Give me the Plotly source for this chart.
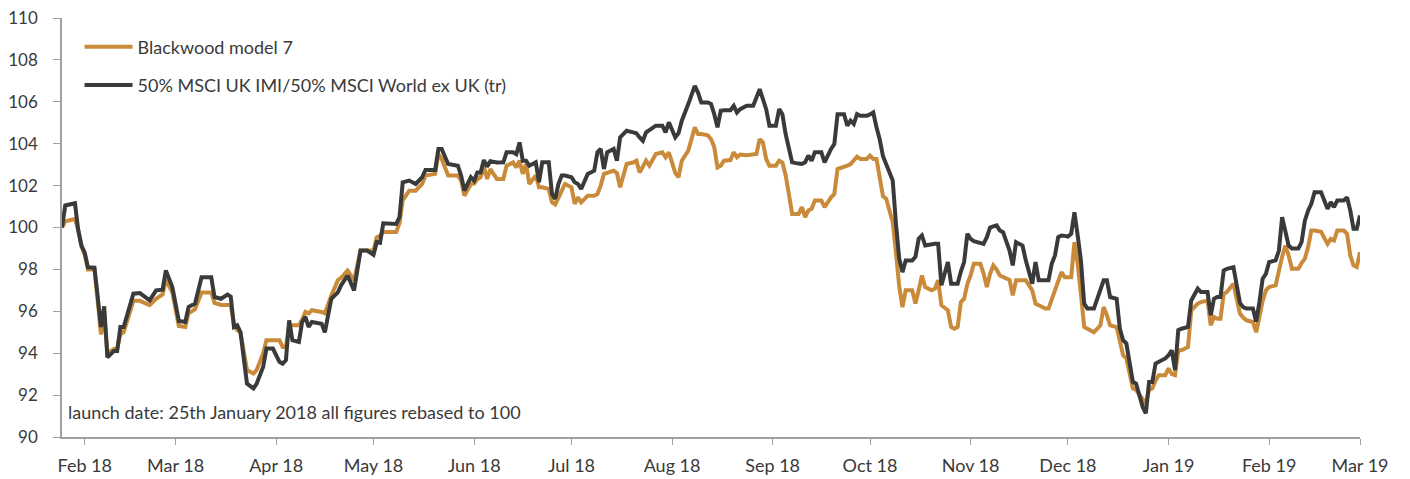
import pandas as pd
import plotly.graph_objects as go

launch_date = "2018-01-25"
series_names = ["Blackwood model 7", "50% MSCI UK IMI/50% MSCI World ex UK (tr)"]
note_text = "launch date: 25th January 2018 all figures rebased to 100"

# days since launch date
day_offsets = [
    0, 1, 4, 5, 6, 7, 8, 10, 11, 12,
    13, 14, 16, 17, 18, 19, 22, 24, 27, 29,
    31, 32, 34, 36, 38, 39, 41, 43, 46, 47,
    49, 51, 52, 53, 54, 55, 57, 59, 60, 62,
    63, 65, 67, 68, 69, 70, 71, 73, 74, 75,
    76, 77, 80, 81, 83, 85, 86, 88, 90, 92,
    94, 96, 97, 98, 99, 103, 104, 105, 107, 109,
    111, 112, 115, 116, 117, 119, 122, 123, 124, 126,
    127, 128, 129, 130, 131, 132, 134, 136, 137, 139,
    140, 141, 142, 143, 144, 146, 147, 148, 150, 151,
    152, 153, 154, 155, 157, 158, 159, 160, 162, 164,
    165, 166, 167, 168, 170, 171, 172, 174, 176, 177,
    178, 179, 180, 181, 183, 185, 186, 187, 189, 190,
    191, 193, 194, 195, 196, 197, 199, 200, 201, 202,
    203, 204, 206, 207, 208, 209, 211, 213, 214, 215,
    216, 217, 218, 220, 221, 222, 223, 224, 225, 227,
    228, 229, 230, 231, 232, 234, 235, 237, 238, 239,
    241, 242, 243, 244, 245, 246, 248, 249, 250, 251,
    252, 253, 254, 256, 257, 258, 259, 260, 262, 263,
    264, 265, 266, 268, 269, 270, 271, 273, 274, 275,
    276, 277, 278, 279, 280, 281, 283, 284, 285, 286,
    287, 288, 289, 290, 292, 293, 294, 296, 297, 299,
    300, 301, 303, 304, 305, 306, 307, 308, 309, 310,
    311, 312, 313, 314, 315, 316, 318, 320, 321, 322,
    323, 325, 326, 327, 328, 330, 331, 333, 334, 335,
    336, 337, 338, 340, 341, 342, 343, 344, 345, 347,
    348, 350, 351, 353, 354, 355, 356, 357, 358, 359,
    361, 362, 363, 364, 365, 367, 368, 369, 370, 371,
    372, 374, 375, 376, 377, 378, 379, 381, 382, 383,
    384, 385, 386, 388, 389, 390, 391, 392, 393, 395,
    396, 397, 398, 399, 400,
]

blackwood = [
    100.0, 100.3, 100.4, 99.9, 99.1, 98.7, 98.0, 98.0, 96.5, 94.9,
    95.8, 94.0, 94.2, 94.2, 94.9, 95.0, 96.5, 96.5, 96.3, 96.6,
    96.8, 97.5, 96.9, 95.3, 95.25, 95.9, 96.1, 96.9, 96.9, 96.4,
    96.3, 96.3, 96.3, 95.4, 95.1, 95.0, 93.2, 93.03, 93.2, 94.0,
    94.62, 94.62, 94.62, 94.3, 94.3, 95.33, 95.33, 95.33, 95.6, 95.97,
    95.9, 96.05, 95.97, 95.9, 96.76, 97.48, 97.6, 97.95, 97.48, 98.9,
    98.9, 98.9, 99.54, 99.6, 99.78, 99.78, 100.2, 101.3, 101.76, 101.76,
    102.08, 102.48, 102.56, 103.51, 103.27, 102.48, 102.48, 102.24, 101.52, 102.08,
    102.1, 102.3, 102.4, 102.9, 102.32, 102.79, 102.32, 102.32, 102.95, 103.11,
    102.87, 103.19, 102.56, 103.03, 102.08, 102.48, 101.92, 101.92, 101.84, 101.2,
    101.1, 101.4, 101.76, 102.08, 101.92, 101.13, 101.44, 101.2, 101.52, 101.52,
    101.6, 102.0, 102.56, 102.6, 102.71, 102.6, 101.92, 103.03, 103.1, 103.19,
    102.63, 102.9, 103.19, 102.95, 103.51, 103.59, 103.35, 103.59, 102.6, 102.4,
    103.19, 103.67, 104.2, 104.78, 104.46, 104.46, 104.4, 104.22, 103.83, 102.87,
    102.95, 103.19, 103.22, 103.59, 103.35, 103.48, 103.45, 103.51, 103.51, 104.22,
    104.06, 103.27, 102.95, 102.95, 103.19, 103.1, 102.5, 101.6, 100.65, 100.65,
    100.97, 100.49, 100.81, 100.89, 101.29, 101.29, 100.97, 101.44, 101.6, 102.79,
    102.87, 102.95, 103.03, 103.19, 103.38, 103.27, 103.27, 103.43, 103.27, 103.27,
    102.24, 101.5, 101.37, 100.25, 98.8, 97.2, 96.2, 97.0, 97.0, 96.37,
    97.0, 97.71, 97.16, 97.0, 97.08, 97.48, 96.29, 96.05, 95.25, 95.17,
    95.25, 96.44, 96.6, 97.3, 97.71, 98.27, 98.27, 97.8, 97.16, 97.79,
    98.19, 98.0, 97.71, 97.63, 97.5, 96.76, 97.48, 97.48, 97.48, 97.0,
    96.37, 96.29, 96.13, 96.13, 96.6, 97.08, 97.48, 97.87, 97.63, 97.63,
    97.63, 99.3, 98.27, 96.84, 95.25, 95.17, 95.0, 95.33, 96.2, 95.81,
    95.33, 95.25, 94.54, 93.9, 93.75, 92.32, 92.24, 91.76, 91.6, 92.24,
    92.32, 92.7, 92.95, 92.95, 93.27, 93.0, 92.95, 94.14, 94.14, 94.3,
    96.05, 96.37, 96.44, 96.52, 95.33, 95.73, 95.65, 95.65, 96.84, 96.92,
    97.32, 96.6, 95.89, 95.7, 95.57, 95.49, 95.0, 95.73, 96.5, 97.0,
    97.16, 97.24, 97.95, 98.6, 99.14, 98.67, 98.03, 98.03, 98.3, 98.51,
    99.06, 99.86, 99.86, 99.8, 99.5, 99.22, 99.46, 99.38, 99.86, 99.86,
    99.7, 98.67, 98.19, 98.11, 98.82,
]

benchmark = [
    100.0, 101.05, 101.16, 99.86, 99.14, 98.8, 98.1, 98.08, 96.7, 95.25,
    96.24, 93.8, 94.1, 94.1, 95.25, 95.25, 96.84, 96.87, 96.52, 97.0,
    97.03, 97.95, 97.16, 95.54, 95.49, 96.2, 96.37, 97.63, 97.63, 96.68,
    96.6, 96.8, 96.7, 95.25, 95.33, 95.0, 92.55, 92.32, 92.55, 93.35,
    94.22, 94.22, 93.59, 93.5, 93.67, 95.57, 94.62, 94.54, 95.49, 95.73,
    95.25, 95.49, 95.41, 95.0, 96.6, 96.9, 97.24, 97.71, 97.0, 98.9,
    98.9, 98.7, 99.3, 99.27, 100.2, 100.17, 100.49, 102.16, 102.24, 102.08,
    102.4, 102.75, 102.75, 103.75, 103.75, 103.03, 102.95, 102.48, 101.76, 102.4,
    102.24, 102.63, 102.63, 103.22, 102.9, 103.16, 103.1, 103.11, 103.59, 103.59,
    103.5, 104.06, 103.19, 103.19, 102.95, 103.11, 102.16, 103.11, 103.11, 101.6,
    101.37, 102.08, 102.48, 102.48, 102.4, 102.16, 102.08, 101.84, 102.56, 102.71,
    103.59, 103.75, 102.79, 103.59, 103.75, 103.19, 104.3, 104.62, 104.54, 104.5,
    104.3, 104.14, 104.54, 104.65, 104.86, 104.86, 104.54, 105.02, 104.3, 104.5,
    105.1, 105.89, 106.29, 106.76, 106.44, 105.97, 105.97, 105.9, 105.41, 104.78,
    105.57, 105.6, 105.6, 105.81, 105.49, 105.65, 105.81, 105.81, 106.2, 106.6,
    106.13, 105.65, 104.86, 104.86, 105.65, 105.41, 104.46, 103.83, 103.11, 103.05,
    103.03, 103.11, 103.43, 103.19, 103.59, 103.59, 103.11, 103.75, 103.98, 105.41,
    105.41, 104.86, 105.1, 104.94, 105.41, 105.33, 105.33, 105.4, 105.49, 104.78,
    104.2, 103.4, 103.0, 102.24, 100.17, 98.51, 97.87, 98.43, 98.43, 98.6,
    99.46, 99.62, 99.14, 99.22, 99.22, 99.22, 97.24, 98.35, 97.32, 97.32,
    97.32, 97.9, 98.35, 99.7, 99.46, 99.35, 99.25, 99.22, 99.54, 100.0,
    100.05, 100.1, 99.86, 99.78, 98.9, 98.19, 99.3, 99.14, 98.43, 97.32,
    98.35, 97.48, 97.48, 97.48, 98.27, 98.67, 99.54, 99.62, 99.6, 99.57,
    99.7, 100.73, 99.62, 98.43, 96.37, 96.13, 96.13, 97.0, 97.48, 97.48,
    96.68, 96.6, 95.17, 94.62, 94.46, 92.63, 92.55, 91.44, 91.13, 92.63,
    92.63, 93.51, 93.59, 93.75, 93.9, 94.14, 93.19, 95.1, 95.17, 95.25,
    96.52, 97.08, 96.92, 96.92, 95.81, 96.6, 96.68, 96.68, 97.95, 98.03,
    98.11, 97.16, 96.4, 96.2, 96.13, 96.13, 95.5, 96.44, 97.56, 97.79,
    98.35, 98.43, 98.9, 100.49, 99.86, 99.14, 99.0, 99.0, 99.3, 100.33,
    100.8, 101.13, 101.68, 101.68, 101.29, 100.89, 101.21, 100.97, 101.29, 101.29,
    101.44, 100.81, 99.94, 99.94, 100.57,
]

assert len(day_offsets) == len(blackwood) == len(benchmark)

dates = pd.Timestamp(launch_date) + pd.to_timedelta(day_offsets, unit="D")
tick_dates = pd.date_range("2018-02-01", "2019-03-01", freq="MS")
tick_labels = [d.strftime("%b %y") for d in tick_dates]

FONT = "Lato, 'Open Sans', sans-serif"
TEXT = "#3a3a3a"
AXIS = "#a0a0a0"

fig = go.Figure()
fig.add_trace(go.Scatter(
    x=dates, y=blackwood, name=series_names[0], mode="lines",
    line=dict(color="#C98B3A", width=4), legendgroup="a",
))
fig.add_trace(go.Scatter(
    x=dates, y=benchmark, name=series_names[1], mode="lines",
    line=dict(color="#3A3A3A", width=4), legendgroup="b",
))

# page body has an 8px default margin, so the figure is sized to fit the window
fig.update_layout(
    width=1402, height=471,
    margin=dict(l=54, r=50, t=10, b=42, autoexpand=False),
    paper_bgcolor="white", plot_bgcolor="white",
    font=dict(family=FONT, size=18, color=TEXT),
    showlegend=True,
    legend=dict(
        x=0.0135, y=0.975, xanchor="left", yanchor="top",
        bgcolor="rgba(0,0,0,0)", font=dict(size=18, color=TEXT),
        tracegroupgap=12, itemwidth=48,
    ),
    xaxis=dict(
        range=[pd.Timestamp(launch_date), pd.Timestamp("2019-03-01")],
        tickvals=tick_dates, ticktext=tick_labels,
        showgrid=False, zeroline=False, automargin=False,
        showline=True, linecolor=AXIS, linewidth=1.5,
        ticks="outside", ticklen=6, tickcolor=AXIS, tickwidth=1.2,
        tickfont=dict(size=18, color=TEXT),
        ticklabelstandoff=6, ticklabeloverflow="allow",
    ),
    yaxis=dict(
        range=[90, 110], dtick=2, tick0=90,
        showgrid=False, zeroline=False, automargin=False,
        showline=True, linecolor=AXIS, linewidth=1.5,
        ticks="outside", ticklen=7, tickcolor=AXIS, tickwidth=1.2,
        tickfont=dict(size=17, color=TEXT),
        ticklabelstandoff=12, ticklabeloverflow="allow",
    ),
    annotations=[dict(
        text=note_text, xref="paper", yref="y", x=0.003, y=91.2,
        xanchor="left", yanchor="middle", showarrow=False,
        font=dict(size=18, color=TEXT),
    )],
)

fig.write_html("out.html")
